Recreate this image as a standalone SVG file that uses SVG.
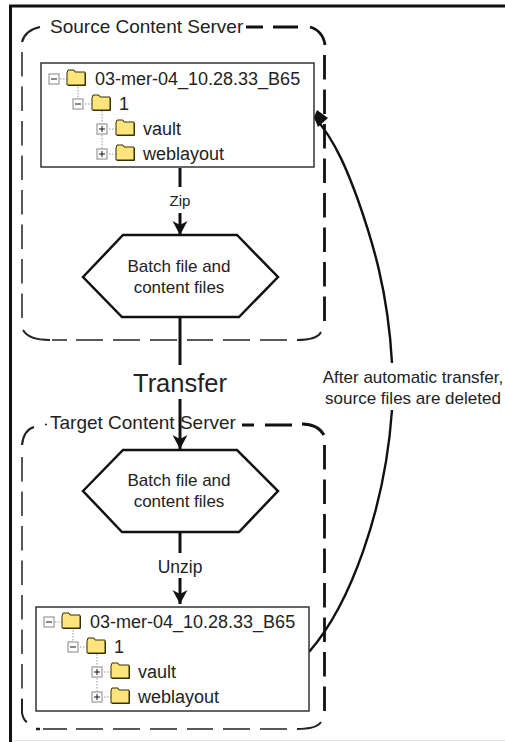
<svg xmlns="http://www.w3.org/2000/svg" width="505" height="742" viewBox="0 0 505 742">
<style>
text{font-family:"Liberation Sans",Arial,sans-serif;fill:#222}
.t{font-size:18px}
.s{font-size:19px}
.c{font-size:17px;text-anchor:middle}
.box{fill:#fff;stroke:#333;stroke-width:1.5}
.hex{fill:#fff;stroke:#111;stroke-width:2.5}
.thinD{fill:none;stroke:#222;stroke-width:1.5}
.thickD{fill:none;stroke:#111;stroke-width:2.8}
.line{fill:none;stroke:#111;stroke-width:3}
.curve{fill:none;stroke:#111;stroke-width:2.4}
.dot{stroke:#999;stroke-width:1;stroke-dasharray:1.5 1.5;fill:none}
.fold{fill:#fde57c;stroke:#332f00;stroke-width:1}
.pm{fill:#fff;stroke:#999;stroke-width:1.2}
.sign{stroke:#111;stroke-width:1;fill:none}
</style>
<defs>
<g id="folder"><path class="fold" d="M0,3 L1,0 L7,0 L8,2 L18,2 L18,15 L0,15 Z"/><path d="M1,15.500 L18.500,15.500 L18.500,3" fill="none" stroke="#332f00" stroke-width="1"/></g>
<g id="minus"><rect class="pm" x="0" y="0" width="10" height="10"/><path class="sign" stroke="#888" d="M2,5 H8"/></g>
<g id="plus"><rect class="pm" x="0" y="0" width="10" height="10"/><path class="sign" d="M2,5 H8 M5,2 V8"/></g>
<g id="tree">
<path class="dot" d="M11,5 H18 M29,13 V25 M36,30 H43 M53,37 V75 M60,55 H67 M60,80 H67"/>
<use href="#minus" x="0" y="0"/><use href="#folder" x="18" y="-4"/>
<use href="#minus" x="24" y="25"/><use href="#folder" x="43" y="21"/>
<use href="#plus" x="48" y="50"/><use href="#folder" x="67" y="46"/>
<use href="#plus" x="48" y="75"/><use href="#folder" x="67" y="71"/>
</g>
<marker id="arr" markerUnits="userSpaceOnUse" markerWidth="16" markerHeight="16" refX="14" refY="8" orient="auto"><path d="M0,0.500 L14,8 L0,15.500 L4,8 Z" fill="#111"/></marker>
<marker id="arr2" markerUnits="userSpaceOnUse" markerWidth="16" markerHeight="18" refX="12" refY="8" orient="217"><path d="M12,8 L13.800,15.400 L0.200,15.600 L2.800,2.400 Z" fill="#111"/></marker>
</defs>
<rect width="505" height="742" fill="#fff"/>
<path d="M12,740.500 H505" fill="none" stroke="#e6e6e6" stroke-width="1"/>
<path d="M10.500,742 V6 H505" fill="none" stroke="#111" stroke-width="3"/>

<g id="connectors">
<path class="line" d="M180,168 V187"/>
<path class="line" d="M180,213 V235" marker-end="url(#arr)"/>
<path class="line" d="M180,317 V365"/>
<path class="line" d="M180,399 V449" marker-end="url(#arr)"/>
<path class="line" d="M180,533 V553"/>
<path class="line" d="M180,578 V604" marker-end="url(#arr)"/>
<path class="curve" d="M309,652 C350,605 385,510 392,410"/>
<path class="curve" d="M392,363 C388,290 372,240 358,200 C350,178 336,140 314,117" marker-end="url(#arr2)"/>
</g>

<g id="source-server">
<path class="thinD" style="stroke-width:2.200" d="M22,42 C24,34 31,29 40,27"/>
<path class="thinD" d="M22,52 V320" stroke-dasharray="24.500 10"/>
<path class="thinD" style="stroke-width:2" d="M23,330 C27,337 35,340 50,340"/>
<path class="thinD" d="M52,340 H67 M76,340 H103 M113,340 H140 M150,340 H177 M187,340 H213 M223,340 H250 M260,340 H287"/>
<path class="thinD" style="stroke-width:2" d="M297,340 C310,340 318,338 321,332"/>
<path class="thickD" d="M246,27 H263 M273,27 H298 M310,27 C318,29 324,36 325,45"/>
<path class="thickD" d="M324.500,55 V323" stroke-dasharray="24.500 10"/>
<text class="s" x="50" y="33">Source Content Server</text>
</g>

<g id="target-server">
<path class="thinD" style="stroke-width:2.200" d="M22,445 C23,436 27,429 34,427"/>
<path class="thinD" d="M45,424.500 H47"/>
<path class="thinD" d="M22,457 V699" stroke-dasharray="24.500 10"/>
<path class="thinD" style="stroke-width:2" d="M22,699 V713 C23,718 25,721 27,722"/>
<path class="thinD" d="M43,729 H67 M76,729 H103 M113,729 H140 M150,729 H177 M187,729 H213 M223,729 H250 M260,729 H287"/>
<path class="thinD" style="stroke-width:2.500" d="M36,729 H40"/>
<path class="thinD" style="stroke-width:2" d="M297,729 C310,729 318,727 321,722"/>
<path class="thickD" d="M242,425 H254 M265,425 H292 M302,424 C312,424 320,428 324,435"/>
<path class="thickD" d="M324.500,445 V713" stroke-dasharray="24.500 10"/>
<text class="s" x="50" y="429">Target Content Server</text>
</g>

<g id="source-tree">
<rect class="box" x="41" y="63" width="273" height="104"/>
<use href="#tree" x="49" y="74"/>
<text class="t" x="95" y="85">03-mer-04_10.28.33_B65</text>
<text class="t" x="119" y="110">1</text>
<text class="t" x="143" y="135">vault</text>
<text class="t" x="143" y="160">weblayout</text>
</g>

<g id="zip-label"><text class="c" x="180" y="206" style="font-size:15px">Zip</text></g>

<g id="source-batch">
<polygon class="hex" points="83,277 123,235 237,235 278,277 239,317 122,317"/>
<text class="c" x="179" y="272">Batch file and</text>
<text class="c" x="179" y="293">content files</text>
</g>

<g id="transfer-label"><text x="180" y="392" text-anchor="middle" style="font-size:25.500px">Transfer</text></g>

<g id="target-batch">
<polygon class="hex" points="83,491 123,450 237,450 278,491 239,532 122,532"/>
<text class="c" x="179" y="486">Batch file and</text>
<text class="c" x="179" y="507">content files</text>
</g>

<g id="unzip-label"><text class="c" x="180" y="573" style="font-size:17.500px">Unzip</text></g>

<g id="target-tree">
<rect class="box" x="36" y="607" width="273" height="104"/>
<use href="#tree" x="44" y="617"/>
<text class="t" x="90" y="628">03-mer-04_10.28.33_B65</text>
<text class="t" x="114" y="653">1</text>
<text class="t" x="138" y="678">vault</text>
<text class="t" x="138" y="703">weblayout</text>
</g>

<g id="delete-label">
<text class="c" x="413" y="383">After automatic transfer,</text>
<text class="c" x="413" y="404">source files are deleted</text>
</g>
</svg>
